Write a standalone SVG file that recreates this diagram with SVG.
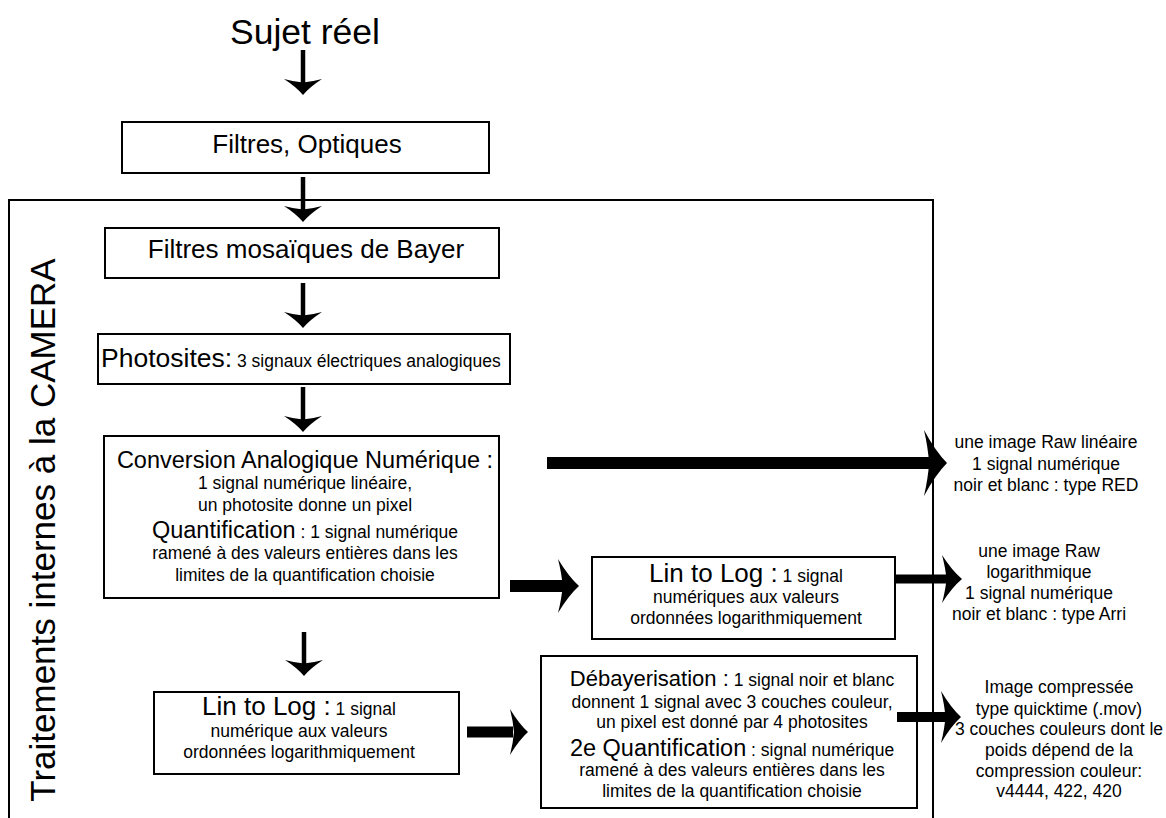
<svg xmlns="http://www.w3.org/2000/svg" xmlns:xlink="http://www.w3.org/1999/xlink" width="1166" height="818" viewBox="0 0 1166 818">
<style>
text{font-family:"Liberation Sans",Arial,sans-serif;fill:#000}
.c{text-anchor:middle}
.s{font-size:17.5px}
.b{font-size:26px}
.m{font-size:23.5px}
.box{fill:#fff;stroke:#000;stroke-width:2}
.sh{stroke:#000;stroke-width:4.5;fill:none}
.hd{fill:#000}
</style>
<defs>
<path id="hd" d="M0,0 Q-0.5,-0.35 -1,-1 Q-0.82,-0.45 -0.78,0 Q-0.82,0.45 -1,1 Q-0.5,0.35 0,0Z"/>
</defs>
<rect width="1166" height="818" fill="#fff"/>

<g id="frame">
<rect x="9" y="200" width="924" height="640" fill="none" stroke="#000" stroke-width="2"/>
<text transform="translate(55,530) rotate(-90)" class="c" font-size="35">Traitements internes à la CAMERA</text>
</g>

<g id="n-sujet">
<text x="305" y="44" class="c" font-size="35.5">Sujet réel</text>
</g>

<g id="n-filtres">
<rect class="box" x="122" y="122" width="367" height="51"/>
<text x="307" y="153" class="c b">Filtres, Optiques</text>
</g>

<g id="n-bayer">
<rect class="box" x="105" y="228" width="394" height="50"/>
<text x="306" y="258" class="c b">Filtres mosaïques de Bayer</text>
</g>

<g id="n-photosites">
<rect class="box" x="98" y="334" width="412" height="50"/>
<text x="101" y="367" font-size="26.5">Photosites:<tspan class="s"> 3 signaux électriques analogiques</tspan></text>
</g>

<g id="n-conversion">
<rect class="box" x="104" y="436" width="395" height="162"/>
<text x="305" y="468" class="c m">Conversion Analogique Numérique :</text>
<text x="305" y="489" class="c s">1 signal numérique linéaire,</text>
<text x="305" y="511" class="c s">un photosite donne un pixel</text>
<text x="305" y="538" class="c m">Quantification<tspan class="s"> : 1 signal numérique</tspan></text>
<text x="305" y="559" class="c s">ramené à des valeurs entières dans les</text>
<text x="305" y="581" class="c s">limites de la quantification choisie</text>
</g>

<g id="n-lintolog-1">
<rect class="box" x="592" y="557" width="303" height="82"/>
<text x="746" y="582" class="c b">Lin to Log :<tspan class="s"> 1 signal</tspan></text>
<text x="746" y="603" class="c s">numériques aux valeurs</text>
<text x="746" y="624" class="c s">ordonnées logarithmiquement</text>
</g>

<g id="n-lintolog-2">
<rect class="box" x="154" y="692" width="305" height="82"/>
<text x="299" y="715" class="c b">Lin to Log :<tspan class="s"> 1 signal</tspan></text>
<text x="299" y="737" class="c s">numérique aux valeurs</text>
<text x="299" y="758" class="c s">ordonnées logarithmiquement</text>
</g>

<g id="n-debayer">
<rect class="box" x="541" y="656" width="376" height="152"/>
<text x="732" y="686" class="c" font-size="22">Débayerisation :<tspan class="s"> 1 signal noir et blanc</tspan></text>
<text x="732" y="708" class="c s">donnent 1 signal avec 3 couches couleur,</text>
<text x="732" y="728" class="c s">un pixel est donné par 4 photosites</text>
<text x="732" y="756" class="c m">2e Quantification<tspan class="s"> : signal numérique</tspan></text>
<text x="732" y="776" class="c s">ramené à des valeurs entières dans les</text>
<text x="732" y="797" class="c s">limites de la quantification choisie</text>
</g>

<g id="n-out-red">
<text x="1046" y="448" class="c s">une image Raw linéaire</text>
<text x="1046" y="470" class="c s">1 signal numérique</text>
<text x="1046" y="491" class="c s">noir et blanc : type RED</text>
</g>

<g id="n-out-arri">
<text x="1039" y="557" class="c s">une image Raw</text>
<text x="1039" y="578" class="c s">logarithmique</text>
<text x="1039" y="599" class="c s">1 signal numérique</text>
<text x="1039" y="620" class="c s">noir et blanc : type Arri</text>
</g>

<g id="n-out-mov">
<text x="1059" y="693" class="c s">Image compressée</text>
<text x="1059" y="715" class="c s">type quicktime (.mov)</text>
<text x="1059" y="735" class="c s">3 couches couleurs dont le</text>
<text x="1059" y="756" class="c s">poids dépend de la</text>
<text x="1059" y="777" class="c s">compression couleur:</text>
<text x="1059" y="797" class="c s">v4444, 422, 420</text>
</g>

<g id="connectors">
<line class="sh" x1="303" y1="50" x2="303" y2="85"/>
<use xlink:href="#hd" class="hd" transform="translate(303,95) rotate(90) scale(16,19)"/>
<line class="sh" x1="303" y1="177" x2="303" y2="212"/>
<use xlink:href="#hd" class="hd" transform="translate(303,222) rotate(90) scale(16,19)"/>
<line class="sh" x1="303" y1="283" x2="303" y2="318"/>
<use xlink:href="#hd" class="hd" transform="translate(303,328) rotate(90) scale(16,19)"/>
<line class="sh" x1="303" y1="387" x2="303" y2="422"/>
<use xlink:href="#hd" class="hd" transform="translate(303,432) rotate(90) scale(16,19)"/>
<line class="sh" x1="304" y1="632" x2="304" y2="666"/>
<use xlink:href="#hd" class="hd" transform="translate(304,676) rotate(90) scale(16,19)"/>

<line stroke="#000" stroke-width="12" x1="547" y1="463" x2="932" y2="463"/>
<use xlink:href="#hd" class="hd" transform="translate(947,463) scale(23,33)"/>

<line stroke="#000" stroke-width="12" x1="510" y1="586" x2="565" y2="586"/>
<use xlink:href="#hd" class="hd" transform="translate(579,586) scale(21,27)"/>

<line stroke="#000" stroke-width="9" x1="895" y1="579" x2="948" y2="579"/>
<use xlink:href="#hd" class="hd" transform="translate(962,579) scale(20,24)"/>

<line stroke="#000" stroke-width="11" x1="467" y1="732" x2="513" y2="732"/>
<use xlink:href="#hd" class="hd" transform="translate(528,732) scale(18,23)"/>

<line stroke="#000" stroke-width="10" x1="897" y1="717" x2="947" y2="717"/>
<use xlink:href="#hd" class="hd" transform="translate(961,717) scale(20,26)"/>
</g>
</svg>
